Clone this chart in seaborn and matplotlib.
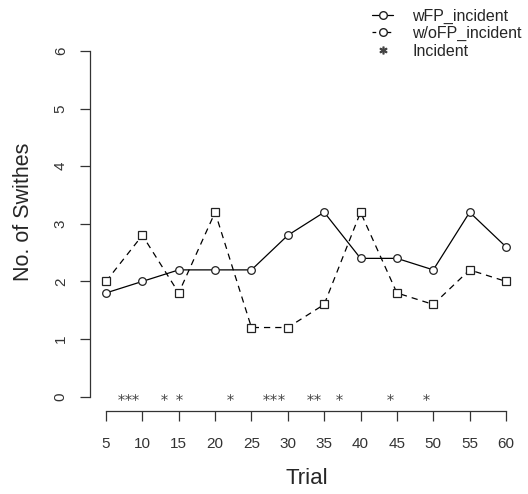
import numpy as np
import pandas as pd
import seaborn as sns
import matplotlib.pyplot as plt
from matplotlib.lines import Line2D

trial = [5, 10, 15, 20, 25, 30, 35, 40, 45, 50, 55, 60]
wfp = [1.8, 2.0, 2.2, 2.2, 2.2, 2.8, 3.2, 2.4, 2.4, 2.2, 3.2, 2.6]
wofp = [2.0, 2.8, 1.8, 3.2, 1.2, 1.2, 1.6, 3.2, 1.8, 1.6, 2.2, 2.0]
incident_trial = [7, 8, 9, 13, 15, 22, 27, 28, 29, 33, 34, 37, 44, 49]
incident_y = [0] * len(incident_trial)

sns.set_style("ticks")
plt.rcParams['font.family'] = ['Liberation Sans', 'DejaVu Sans']

fig = plt.figure(figsize=(5.28, 4.94), dpi=100)
ax = fig.add_axes([90 / 528, 0.169, 432 / 528, 0.756])

df = pd.DataFrame({"trial": trial, "wfp": wfp, "wofp": wofp})
sns.lineplot(data=df, x="trial", y="wfp", ax=ax, color="black", lw=0.9,
             marker="o", markersize=5.5, markerfacecolor="white",
             markeredgecolor="#222222", markeredgewidth=0.9)
sns.lineplot(data=df, x="trial", y="wofp", ax=ax, color="black", lw=0.9,
             linestyle=(0, (5, 4)), marker="s", markersize=5.5,
             markerfacecolor="white", markeredgecolor="#222222",
             markeredgewidth=0.9)
sns.scatterplot(x=incident_trial, y=incident_y, ax=ax, marker="$*$",
                s=24, color="#444444", linewidth=0)

ax.set_xlim(2.8, 62.2)
ax.set_ylim(-0.24, 6.24)
ax.set_xticks(trial)
ax.set_yticks(range(0, 7))
ax.spines['top'].set_visible(False)
ax.spines['right'].set_visible(False)
ax.spines['bottom'].set_bounds(5, 60)
ax.spines['left'].set_bounds(0, 6)
for s in ['left', 'bottom']:
    ax.spines[s].set_color("#333333")
    ax.spines[s].set_linewidth(0.9)
ax.tick_params(axis='both', length=7, width=0.9, color="#333333",
               labelsize=11, labelcolor="#333333")
ax.tick_params(axis='x', pad=12)
ax.tick_params(axis='y', pad=9)
for lab in ax.get_yticklabels():
    lab.set_rotation(90)
    lab.set_va('center')
ax.set_xlabel("Trial", fontsize=16)
ax.set_ylabel("No. of Swithes", fontsize=15.5)
ax.xaxis.set_label_coords(0.502, -0.154)
ax.yaxis.set_label_coords(-0.13, 0.531)

handles = [
    Line2D([], [], color="black", lw=0.9, marker="o", markersize=5.5,
           markerfacecolor="white", markeredgecolor="#222222"),
    Line2D([], [], color="black", lw=0.9, linestyle=(0, (3, 3)), marker="o",
           markersize=5.5, markerfacecolor="white", markeredgecolor="#222222"),
    Line2D([], [], color="#444444", lw=0, marker="$*$", markersize=5),
]
fig.legend(handles, ["wFP_incident", "w/oFP_incident", "Incident"],
           loc="upper left", bbox_to_anchor=(358 / 528, 1.012), frameon=False,
           fontsize=11.5, handlelength=1.3, labelspacing=0.15, handletextpad=1.2)

fig.savefig("out.png", dpi=100)
